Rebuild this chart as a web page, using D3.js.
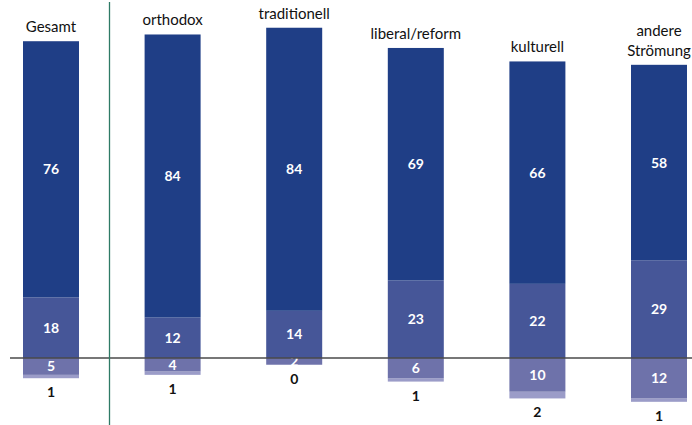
<!DOCTYPE html>
<html>
<head>
<meta charset="utf-8">
<script src="https://cdn.jsdelivr.net/npm/d3@7"></script>
<style>
  html, body { margin: 0; padding: 0; background: #fff; }
  svg { display: block; }
</style>
</head>
<body>
<svg id="chart" width="692" height="425"></svg>
<script>
// Categories and stacked shares (percent)
const categories = ["Gesamt", "orthodox", "traditionell", "liberal/reform", "kulturell", "andere Strömung"];
const topValues = [76, 84, 84, 69, 66, 58];   // upper segment
const midValues = [18, 12, 14, 23, 22, 29];   // lower positive segment
const lowValues = [5, 4, 2, 6, 10, 12];       // first segment below the baseline
const bottomValues = [1, 1, 0, 1, 2, 1];      // last segment below the baseline

const colors = {
  top: "#1f3e86",
  mid: "#465698",
  low: "#6e72aa",
  bottom: "#9b9cc8"
};

const W = 692, H = 425;
const svg = d3.select("#chart");

const x = d3.scalePoint().domain(categories).range([51, 659]);
const y = d3.scaleLinear().domain([-20, 100]).range([358 + 20 * 3.37, 358 - 100 * 3.37]);
const barW = 56;

const rows = categories.map((c, i) => ({
  cat: c,
  top: topValues[i],
  mid: midValues[i],
  low: lowValues[i],
  bottom: bottomValues[i]
}));

const labelFont = "Lato, 'Open Sans', sans-serif";
const numFont = "bold 14px " + labelFont;

// Segments below the baseline (drawn first so the upper segments overlap them)
const g = svg.append("g");

g.selectAll("rect.bottom").data(rows).join("rect")
  .attr("class", "bottom")
  .attr("x", d => x(d.cat) - barW / 2)
  .attr("width", barW)
  .attr("y", d => y(-d.low))
  .attr("height", d => y(-d.low - d.bottom) - y(-d.low))
  .attr("fill", colors.bottom);

g.selectAll("rect.low").data(rows).join("rect")
  .attr("class", "low")
  .attr("x", d => x(d.cat) - barW / 2)
  .attr("width", barW)
  .attr("y", y(0))
  .attr("height", d => y(-d.low) - y(0))
  .attr("fill", colors.low);

g.selectAll("text.low").data(rows).join("text")
  .attr("class", "low")
  .attr("x", d => x(d.cat))
  .attr("y", d => (y(0) + y(-d.low)) / 2)
  .attr("dy", "0.36em")
  .attr("text-anchor", "middle")
  .attr("fill", "#fff")
  .style("font", numFont)
  .text(d => d.low);

// Segments above the baseline
g.selectAll("rect.mid").data(rows).join("rect")
  .attr("class", "mid")
  .attr("x", d => x(d.cat) - barW / 2)
  .attr("width", barW)
  .attr("y", d => y(d.mid))
  .attr("height", d => y(0) - y(d.mid))
  .attr("fill", colors.mid);

g.selectAll("rect.top").data(rows).join("rect")
  .attr("class", "top")
  .attr("x", d => x(d.cat) - barW / 2)
  .attr("width", barW)
  .attr("y", d => y(d.mid + d.top))
  .attr("height", d => y(d.mid) - y(d.mid + d.top))
  .attr("fill", colors.top);

g.selectAll("text.mid").data(rows).join("text")
  .attr("class", "mid")
  .attr("x", d => x(d.cat))
  .attr("y", d => (y(0) + y(d.mid)) / 2)
  .attr("dy", "0.36em")
  .attr("text-anchor", "middle")
  .attr("fill", "#fff")
  .style("font", numFont)
  .text(d => d.mid);

g.selectAll("text.top").data(rows).join("text")
  .attr("class", "top")
  .attr("x", d => x(d.cat))
  .attr("y", d => (y(d.mid) + y(d.mid + d.top)) / 2)
  .attr("dy", "0.36em")
  .attr("text-anchor", "middle")
  .attr("fill", "#fff")
  .style("font", numFont)
  .text(d => d.top);

// Value of the smallest segment, below each bar
g.selectAll("text.bottom").data(rows).join("text")
  .attr("class", "bottom")
  .attr("x", d => x(d.cat))
  .attr("y", d => y(-d.low - d.bottom) + 14)
  .attr("dy", "0.36em")
  .attr("text-anchor", "middle")
  .attr("fill", "#111")
  .style("font", numFont)
  .text(d => d.bottom);

// Category labels above the bars, wrapped when too wide
const catLabels = g.selectAll("text.cat").data(rows).join("text")
  .attr("class", "cat")
  .attr("text-anchor", "middle")
  .attr("fill", "#111")
  .style("font", "15px " + labelFont);

catLabels.each(function(d) {
  const t = d3.select(this);
  const topY = y(d.mid + d.top);
  t.text(d.cat);
  let lines = [d.cat];
  if (this.getComputedTextLength() > 100) lines = d.cat.split(" ");
  t.text(null);
  const lh = 20;
  lines.forEach((ln, k) => {
    t.append("tspan")
      .attr("x", x(d.cat))
      .attr("y", topY - 9 - (lines.length - 1 - k) * lh)
      .text(ln);
  });
});

// Baseline and separator between the total and the groups
svg.append("line")
  .attr("x1", 10).attr("x2", W)
  .attr("y1", y(0)).attr("y2", y(0))
  .attr("stroke", "#4a4a4a")
  .attr("stroke-width", 1.5);

svg.append("line")
  .attr("x1", 109.5).attr("x2", 109.5)
  .attr("y1", 2).attr("y2", H)
  .attr("stroke", "#2e7a66")
  .attr("stroke-width", 1.3);
</script>
</body>
</html>
